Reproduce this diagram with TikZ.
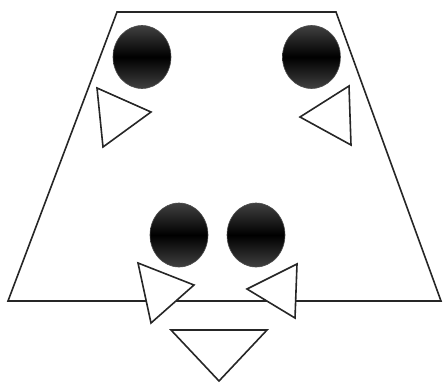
\documentclass[tikz,border=0pt]{standalone}
\begin{document}
\begin{tikzpicture}[x=1pt,y=-1pt,
  outline/.style={draw=black!85,line width=1.6pt,line join=miter},
  tri/.style={outline,fill=white},
  ball/.style={draw=black!70,line width=0.6pt,top color=black!75,bottom color=black!75,middle color=black}]
\useasboundingbox (0,0) rectangle (446,383);
\draw[outline] (117,12) -- (336,12) -- (441,301) -- (8,301) -- cycle;
% balls
\shade[ball] (142,57) ellipse (29 and 31.5);
\shade[ball] (311.5,57) ellipse (29 and 31.5);
\shade[ball] (179,235) ellipse (29 and 32);
\shade[ball] (256,235) ellipse (29 and 32);
% triangles
\draw[tri] (97,88) -- (151,112) -- (103,147) -- cycle;
\draw[tri] (349,86) -- (300,117) -- (351,145) -- cycle;
\draw[tri] (138,263) -- (194,285) -- (151,323) -- cycle;
\draw[tri] (297,264) -- (247,289) -- (295,318) -- cycle;
\draw[tri] (171,330) -- (267,330) -- (219,381) -- cycle;
\end{tikzpicture}
\end{document}
